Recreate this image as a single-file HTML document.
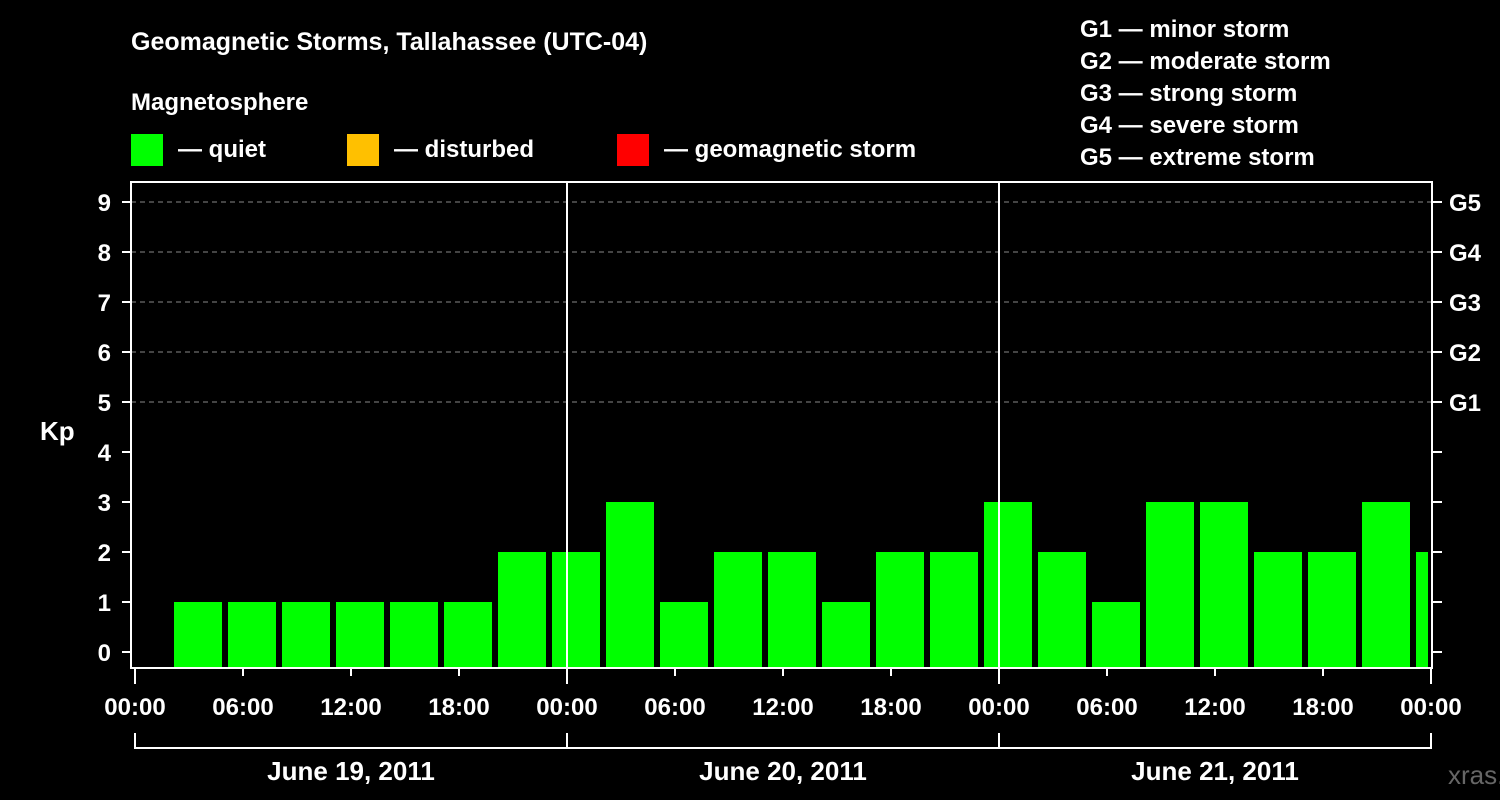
<!DOCTYPE html>
<html><head><meta charset="utf-8"><style>
html,body{margin:0;padding:0;background:#000;}
svg{display:block;font-family:"Liberation Sans",Arial,sans-serif;font-weight:bold;}
</style></head><body>
<svg id="chart" width="1500" height="800" viewBox="0 0 1500 800">
<text x="131" y="50" fill="#fff" font-size="25">Geomagnetic Storms, Tallahassee (UTC-04)</text>
<text x="131" y="110" fill="#fff" font-size="24">Magnetosphere</text>
<g><rect x="131" y="134" width="32" height="32" fill="#00ff00"/><text x="178" y="157" fill="#fff" font-size="24">— quiet</text></g>
<g><rect x="347" y="134" width="32" height="32" fill="#ffc000"/><text x="394" y="157" fill="#fff" font-size="24">— disturbed</text></g>
<g><rect x="617" y="134" width="32" height="32" fill="#ff0000"/><text x="664" y="157" fill="#fff" font-size="24">— geomagnetic storm</text></g>
<g fill="#fff" font-size="24">
<text x="1080" y="37">G1 — minor storm</text>
<text x="1080" y="69">G2 — moderate storm</text>
<text x="1080" y="101">G3 — strong storm</text>
<text x="1080" y="133">G4 — severe storm</text>
<text x="1080" y="165">G5 — extreme storm</text>
</g>
<text x="40" y="440" fill="#fff" font-size="26">Kp</text>
<text x="1448" y="784" fill="#666" font-size="26" font-weight="normal">xras.ru</text>
<g id="grid"></g><g id="bars"></g><g id="axes"></g>
</svg>
<script>
const kpValues=[1,1,1,1,1,1,2,2,3,1,2,2,1,2,2,3,2,1,3,3,2,2,3,2];
const yTicks=[0,1,2,3,4,5,6,7,8,9];
const gLabels=["","","","","","G1","G2","G3","G4","G5"];
const xTickLabels=["00:00","06:00","12:00","18:00","00:00","06:00","12:00","18:00","00:00","06:00","12:00","18:00","00:00"];
const dayLabels=["June 19, 2011","June 20, 2011","June 21, 2011"];
const NS="http://www.w3.org/2000/svg";
const L=131,R=1432,T=182,B=668,X0=135,HR=18;
const y=v=>652-50*v;
const x=h=>X0+h*HR;
function mk(tag,attrs,parent,txt){const e=document.createElementNS(NS,tag);for(const k in attrs)e.setAttribute(k,attrs[k]);if(txt!==undefined)e.textContent=txt;parent.appendChild(e);return e;}
const grid=document.getElementById('grid'),bars=document.getElementById('bars'),axes=document.getElementById('axes');
yTicks.forEach((v,i)=>{
 if(v>=5){const g=mk('line',{x1:L,x2:R,y1:y(v),y2:y(v),stroke:'#888','stroke-dasharray':'5,4','stroke-width':1},grid);
 
 }
 const t=mk('text',{x:111,y:y(v)+9,fill:'#fff','font-size':24,'text-anchor':'end'},axes,String(v));
 
 
 mk('line',{x1:122,x2:L,y1:y(v),y2:y(v),stroke:'#fff','stroke-width':2},axes);
 mk('line',{x1:R,x2:1442,y1:y(v),y2:y(v),stroke:'#fff','stroke-width':2},axes);
 if(gLabels[i]){const g=mk('text',{x:1449,y:y(v)+9,fill:'#fff','font-size':24},axes,gLabels[i]);
 
 }
});
const clip=mk('clipPath',{id:'pc'},document.getElementById('chart'));
mk('rect',{x:L,y:T,width:R-L-4,height:B-T},clip);
kpValues.forEach((v,i)=>{
 const c=3.5+3*i;
 const col=v>=5?'#ff0000':(v>=4?'#ffc000':'#00ff00');
 const b=mk('rect',{x:x(c)-24,y:y(v),width:48,height:B-y(v),fill:col,'clip-path':'url(#pc)'},bars);
 
 
});
[1,2].forEach(d=>{mk('line',{x1:x(24*d),x2:x(24*d),y1:T,y2:B,stroke:'#fff','stroke-width':2},axes);});
const fr=mk('rect',{x:L,y:T,width:R-L,height:B-T,fill:'none',stroke:'#fff','stroke-width':2},axes);


xTickLabels.forEach((s,i)=>{
 const h=6*i;
 mk('line',{x1:x(h),x2:x(h),y1:B,y2:B+(i%4===0?16:8),stroke:'#fff','stroke-width':2},axes);
 const t=mk('text',{x:x(h),y:715,fill:'#fff','font-size':24,'text-anchor':'middle'},axes,s);
 
 
});
mk('line',{x1:x(0),x2:x(72),y1:748,y2:748,stroke:'#fff','stroke-width':2},axes);
[0,1,2,3].forEach(d=>mk('line',{x1:x(24*d),x2:x(24*d),y1:733,y2:749,stroke:'#fff','stroke-width':2},axes));
dayLabels.forEach((s,d)=>{
 const t=mk('text',{x:x(24*d+12),y:780,fill:'#fff','font-size':26,'text-anchor':'middle'},axes,s);
 
 
});
</script>
</body></html>
